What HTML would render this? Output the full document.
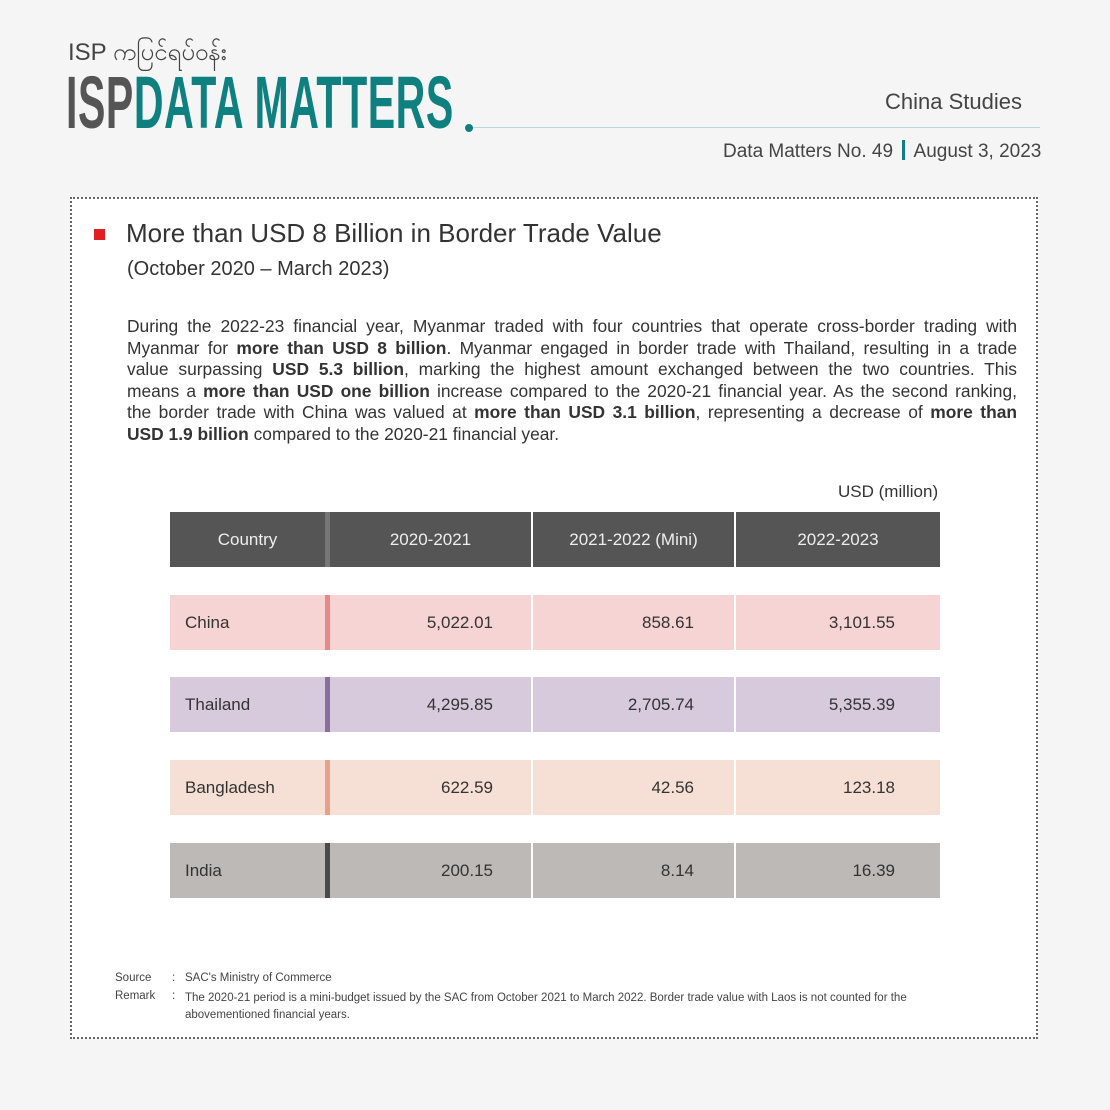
<!DOCTYPE html>
<html><head><meta charset="utf-8"><style>
body{margin:0;width:1110px;height:1110px;background:#f4f5f4;position:relative;font-family:"Liberation Sans",sans-serif;color:#333;overflow:hidden}
.a{position:absolute;white-space:nowrap}
.box{position:absolute;left:70px;top:197px;width:968px;height:842px;border:2px dotted #666;background:#fff;box-sizing:border-box}
.p{position:absolute;left:127px;top:316px;width:890px;font-size:17.4px;line-height:21.6px;color:#333}
.p div{text-align:justify;text-align-last:justify;white-space:nowrap;height:21.6px}
.p div.l{text-align-last:left}
.row{position:absolute;left:170px;width:770px;height:55px;font-size:17px;color:#333}
.row div{position:absolute;top:0;height:55px;line-height:55px;box-sizing:border-box}
.c1{left:0;width:155px;padding-left:15px}
.dv{left:155px;width:5px}
.c2{left:160px;width:201px;text-align:right;padding-right:38px}
.c3{left:363px;width:201px;text-align:right;padding-right:40px}
.c4{left:566px;width:204px;text-align:right;padding-right:45px}
.hd div{text-align:center!important;padding:0!important;color:#eee}
.sm{font-size:11.5px;color:#444}
</style></head><body>
<div class="a" style="left:68px;top:36px;font-size:24px;color:#444;font-family:'Liberation Sans','Noto Sans CJK SC',sans-serif">ISP ကပြင်ရပ်ဝန်း</div>
<div class="a" style="left:66px;top:66px;font-size:74px;font-weight:bold;transform:scaleX(0.555);transform-origin:left top;letter-spacing:1px;line-height:74px"><span style="color:#555">ISP</span><span style="color:#0f8080">DATA MATTERS</span></div>
<div class="a" style="left:465px;top:124px;width:8px;height:8px;border-radius:50%;background:#0f8080"></div>
<div class="a" style="left:473px;top:127px;width:567px;height:1px;background:#bcd8dc"></div>
<div class="a" style="left:885px;top:89px;font-size:22px;color:#444">China Studies</div>
<div class="a" style="left:723px;top:140px;font-size:19px;color:#444">Data Matters No. 49 <span style="display:inline-block;width:3px;height:20px;background:#0f8080;vertical-align:-3px;margin:0 4px"></span> August 3, 2023</div>
<div class="box"></div>
<div class="a" style="left:94px;top:229px;width:11px;height:11px;background:#e02020"></div>
<div class="a" style="left:126px;top:218px;font-size:26px;color:#333">More than USD 8 Billion in Border Trade Value</div>
<div class="a" style="left:127px;top:258px;font-size:20px;color:#333">(October 2020 – March 2023)</div>
<div class="p">
<div>During the 2022-23 financial year, Myanmar traded with four countries that operate cross-border trading with</div>
<div>Myanmar for <b>more than USD 8 billion</b>. Myanmar engaged in border trade with Thailand, resulting in a trade</div>
<div>value surpassing <b>USD 5.3 billion</b>, marking the highest amount exchanged between the two countries. This</div>
<div>means a <b>more than USD one billion</b> increase compared to the 2020-21 financial year. As the second ranking,</div>
<div>the border trade with China was valued at <b>more than USD 3.1 billion</b>, representing a decrease of <b>more than</b></div>
<div class="l"><b>USD 1.9 billion</b> compared to the 2020-21 financial year.</div>
</div>
<div class="a" style="left:838px;top:482px;font-size:17px;color:#333">USD (million)</div>
<div class="row hd" style="top:512px"><div class="c1" style="background:#555">Country</div><div class="dv" style="background:#777"></div><div class="c2" style="background:#555">2020-2021</div><div class="c3" style="background:#555">2021-2022 (Mini)</div><div class="c4" style="background:#555">2022-2023</div></div>
<div class="row" style="top:595px"><div class="c1" style="background:#f5d4d3">China</div><div class="dv" style="background:#e88888"></div><div class="c2" style="background:#f5d4d3">5,022.01</div><div class="c3" style="background:#f5d4d3">858.61</div><div class="c4" style="background:#f5d4d3">3,101.55</div></div>
<div class="row" style="top:677px"><div class="c1" style="background:#d7cadd">Thailand</div><div class="dv" style="background:#8a6e9e"></div><div class="c2" style="background:#d7cadd">4,295.85</div><div class="c3" style="background:#d7cadd">2,705.74</div><div class="c4" style="background:#d7cadd">5,355.39</div></div>
<div class="row" style="top:760px"><div class="c1" style="background:#f6e0d6">Bangladesh</div><div class="dv" style="background:#e8a088"></div><div class="c2" style="background:#f6e0d6">622.59</div><div class="c3" style="background:#f6e0d6">42.56</div><div class="c4" style="background:#f6e0d6">123.18</div></div>
<div class="row" style="top:843px"><div class="c1" style="background:#bdb9b7">India</div><div class="dv" style="background:#4a4a4a"></div><div class="c2" style="background:#bdb9b7">200.15</div><div class="c3" style="background:#bdb9b7">8.14</div><div class="c4" style="background:#bdb9b7">16.39</div></div>
<div class="a sm" style="left:115px;top:972px">Source</div>
<div class="a sm" style="left:172px;top:972px">:</div>
<div class="a sm" style="left:185px;top:972px">SAC's Ministry of Commerce</div>
<div class="a sm" style="left:115px;top:990px">Remark</div>
<div class="a sm" style="left:172px;top:990px">:</div>
<div class="a sm" style="left:185px;top:990px;line-height:17px">The 2020-21 period is a mini-budget issued by the SAC from October 2021 to March 2022. Border trade value with Laos is not counted for the<br>abovementioned financial years.</div>
</body></html>
